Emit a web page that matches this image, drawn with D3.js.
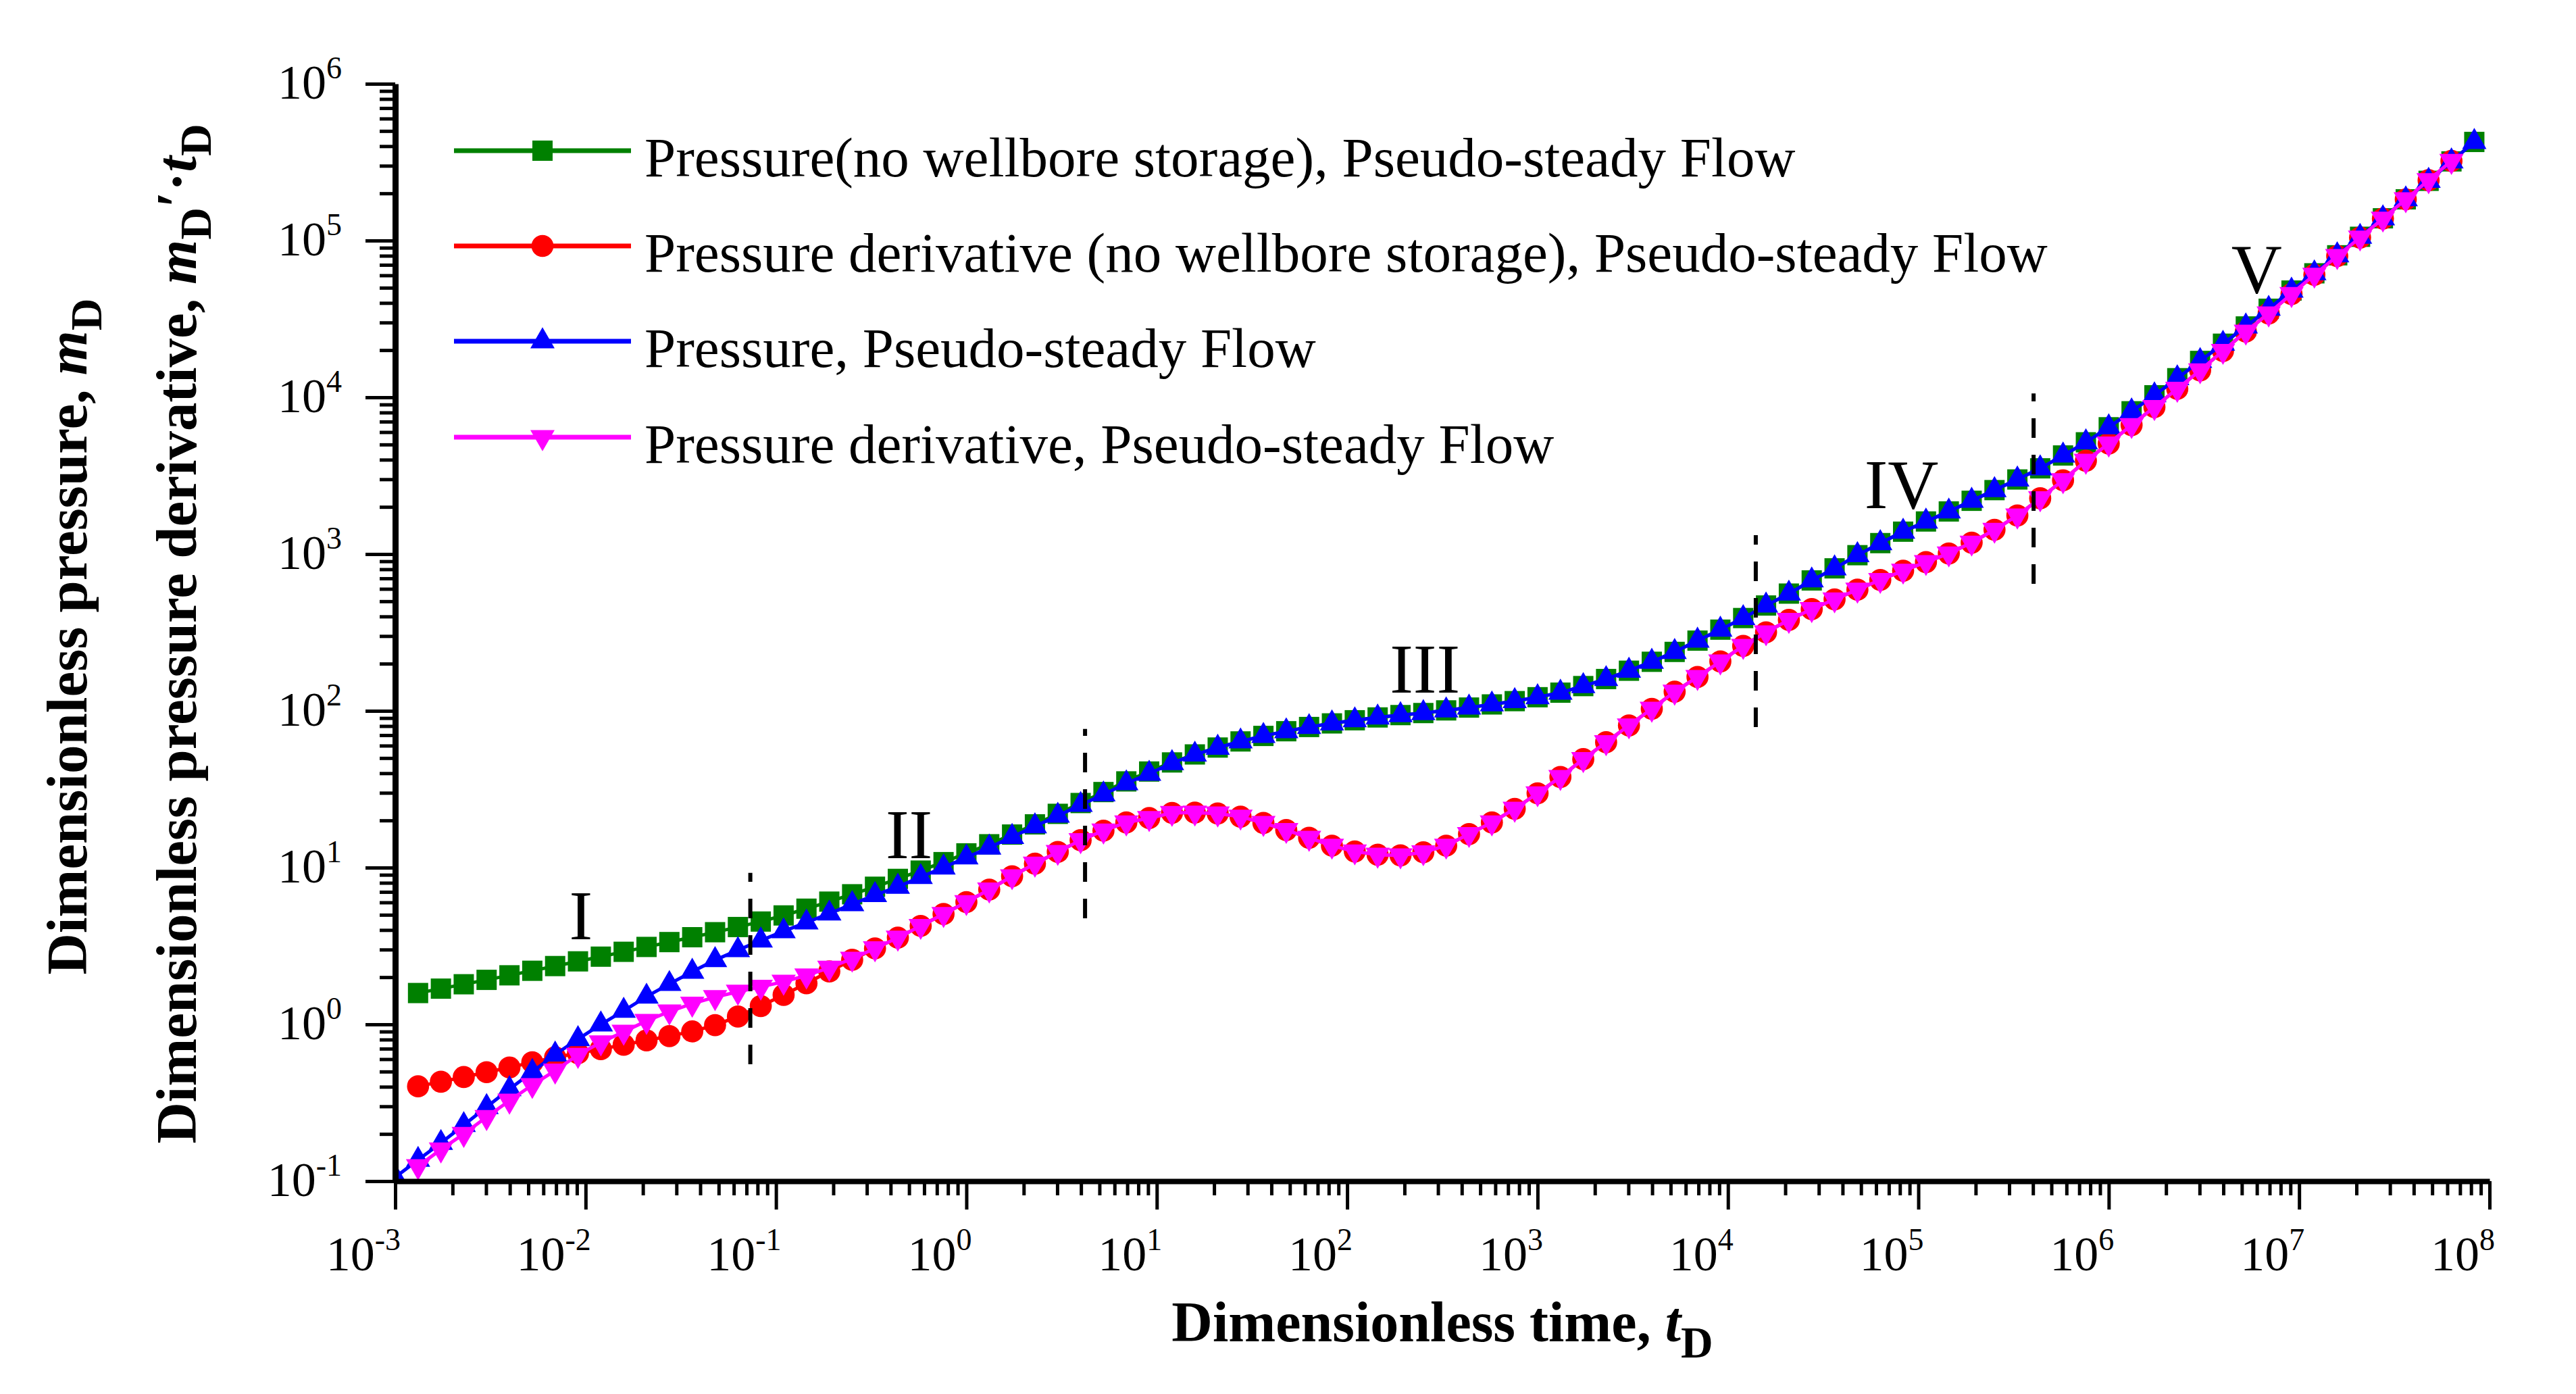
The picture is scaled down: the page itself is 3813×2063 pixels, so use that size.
<!DOCTYPE html>
<html>
<head>
<meta charset="utf-8">
<script src="https://cdn.jsdelivr.net/npm/d3@7"></script>
<style>
  html, body { margin: 0; padding: 0; background: #ffffff; }
  svg { display: block; }
</style>
</head>
<body>
<svg id="chart" width="3813" height="2063"></svg>
<script>
// ---------------- DATA ----------------
// log10 of dimensionless time tD for each sample
const logTimeD = [
  -3.00,-2.88,-2.76,-2.64,-2.52,-2.40,-2.28,-2.16,-2.04,-1.92,-1.80,-1.68,-1.56,-1.44,-1.32,-1.20,
  -1.08,-0.96,-0.84,-0.72,-0.60,-0.48,-0.36,-0.24,-0.12,0.00,0.12,0.24,0.36,0.48,0.60,0.72,
  0.84,0.96,1.08,1.20,1.32,1.44,1.56,1.68,1.80,1.92,2.04,2.16,2.28,2.40,2.52,2.64,
  2.76,2.88,3.00,3.12,3.24,3.36,3.48,3.60,3.72,3.84,3.96,4.08,4.20,4.32,4.44,4.56,
  4.68,4.80,4.92,5.04,5.16,5.28,5.40,5.52,5.64,5.76,5.88,6.00,6.12,6.24,6.36,6.48,
  6.60,6.72,6.84,6.96,7.08,7.20,7.32,7.44,7.56,7.68,7.80,7.92
];
// log10 of Pressure (no wellbore storage), pseudo-steady flow
const pressureNoWbsExp = [
  null,
  0.200,0.228,0.256,0.284,0.313,0.342,0.372,0.402,0.432,0.463,
  0.494,0.525,0.556,0.588,0.621,0.656,0.695,0.738,0.783,0.830,
  0.878,0.928,0.981,1.035,1.091,1.149,1.211,1.276,1.343,1.412,
  1.482,1.550,1.613,1.671,1.722,1.766,1.805,1.840,1.870,1.897,
  1.920,1.940,1.958,1.973,1.986,2.003,2.021,2.041,2.062,2.087,
  2.116,2.158,2.203,2.256,2.313,2.376,2.448,2.518,2.592,2.672,
  2.748,2.832,2.909,2.993,3.070,3.143,3.208,3.272,3.340,3.408,
  3.476,3.547,3.629,3.713,3.809,3.911,4.013,4.122,4.232,4.342,
  4.452,4.565,4.681,4.791,4.906,5.024,5.142,5.263,5.381,5.505,
  5.629
];
// log10 of Pressure derivative (no wellbore storage), pseudo-steady flow
const derivativeNoWbsExp = [
  null,
  -0.395,-0.366,-0.336,-0.305,-0.275,-0.242,-0.210,-0.184,-0.158,-0.130,
  -0.102,-0.075,-0.045,-0.005,0.050,0.117,0.188,0.262,0.338,0.412,
  0.485,0.553,0.628,0.704,0.780,0.860,0.945,1.025,1.100,1.175,
  1.236,1.288,1.316,1.349,1.351,1.345,1.325,1.285,1.240,1.190,
  1.140,1.103,1.082,1.078,1.098,1.140,1.214,1.288,1.375,1.474,
  1.578,1.692,1.800,1.907,2.013,2.122,2.216,2.315,2.414,2.501,
  2.580,2.649,2.711,2.773,2.835,2.894,2.949,3.004,3.073,3.155,
  3.246,3.356,3.471,3.595,3.705,3.823,3.938,4.054,4.172,4.296,
  4.419,4.535,4.659,4.782,4.901,5.019,5.140,5.263,5.385,5.508,
  null
];
// log10 of Pressure (with wellbore storage), pseudo-steady flow
const pressureExp = [
  -0.975,
  -0.864,-0.756,-0.642,-0.527,-0.413,-0.303,-0.192,-0.094,0.000,0.087,
  0.177,0.258,0.336,0.410,0.474,0.535,0.594,0.650,0.707,0.767,
  0.825,0.878,0.940,1.001,1.065,1.128,1.196,1.264,1.331,1.400,
  1.467,1.538,1.599,1.667,1.721,1.765,1.805,1.840,1.870,1.897,
  1.920,1.940,1.958,1.973,1.986,2.003,2.021,2.041,2.062,2.087,
  2.116,2.158,2.203,2.256,2.313,2.376,2.448,2.518,2.592,2.672,
  2.748,2.832,2.909,2.993,3.070,3.143,3.208,3.272,3.340,3.408,
  3.476,3.547,3.629,3.713,3.809,3.911,4.013,4.122,4.232,4.342,
  4.452,4.565,4.681,4.791,4.906,5.024,5.142,5.263,5.381,5.505,
  5.629
];
// log10 of Pressure derivative (with wellbore storage), pseudo-steady flow
const derivativeExp = [
  null,
  -0.905,-0.798,-0.699,-0.591,-0.487,-0.387,-0.295,-0.195,-0.115,-0.047,
  0.022,0.082,0.132,0.174,0.208,0.240,0.272,0.312,0.361,0.419,
  0.485,0.553,0.628,0.704,0.780,0.860,0.945,1.025,1.100,1.175,
  1.236,1.288,1.316,1.349,1.351,1.345,1.325,1.285,1.240,1.190,
  1.140,1.103,1.082,1.078,1.098,1.140,1.214,1.288,1.375,1.474,
  1.578,1.692,1.800,1.907,2.013,2.122,2.216,2.315,2.414,2.501,
  2.580,2.649,2.711,2.773,2.835,2.894,2.949,3.004,3.073,3.155,
  3.246,3.356,3.471,3.595,3.705,3.823,3.938,4.054,4.172,4.296,
  4.419,4.535,4.659,4.782,4.901,5.019,5.140,5.263,5.385,5.508,
  null
];

const legendLabels = [
  "Pressure(no wellbore storage), Pseudo-steady Flow",
  "Pressure derivative (no wellbore storage), Pseudo-steady Flow",
  "Pressure, Pseudo-steady Flow",
  "Pressure derivative, Pseudo-steady Flow"
];
const seriesColors = ["#008000", "#ff0000", "#0000ff", "#ff00ff"];
const seriesSymbols = ["square", "circle", "triangle", "triangleDown"];

// flow-regime boundaries (dashed lines) and regime labels
const boundaryTimes = [0.0733, 4.2, 1.4e4, 4.03e5];
const boundaryLow   = [0.557, 4.75, 78.9, 646];
const boundaryHigh  = [9.25, 76.6, 1320, 10600];
const regimeLabels  = ["I", "II", "III", "IV", "V"];
const regimeLabelT  = [0.00944, 0.50, 256, 8.15e4, 5.98e6];
const regimeLabelV  = [3.49, 11.5, 130.6, 1963, 46600];

const xTickExponents = [-3,-2,-1,0,1,2,3,4,5,6,7,8];
const yTickExponents = [-1,0,1,2,3,4,5,6];

// ---------------- LAYOUT ----------------
const FONT = "'Liberation Serif', 'Times New Roman', serif";
const plot = { left: 585, right: 3685, top: 124, bottom: 1748 };
const svg = d3.select("#chart");
svg.append("rect").attr("width", 3813).attr("height", 2063).attr("fill", "#ffffff");

const x = d3.scaleLog().domain([1e-3, 1e8]).range([plot.left, plot.right]);
const y = d3.scaleLog().domain([1e-1, 1e6]).range([plot.bottom, plot.top]);

svg.append("defs").append("clipPath").attr("id", "plotClip")
  .append("rect")
  .attr("x", plot.left).attr("y", plot.top)
  .attr("width", plot.right - plot.left).attr("height", plot.bottom - plot.top);

// ---------------- SERIES ----------------
const seriesExps = [pressureNoWbsExp, derivativeNoWbsExp, pressureExp, derivativeExp];
const series = seriesExps.map((exps, k) => ({
  label: legendLabels[k],
  color: seriesColors[k],
  symbol: seriesSymbols[k],
  points: exps.map((e, i) => e === null ? null : { t: Math.pow(10, logTimeD[i]), v: Math.pow(10, e) })
              .filter(p => p !== null)
}));

function symbolPath(kind) {
  if (kind === "square") return d3.symbol().type(d3.symbolSquare).size(900)();
  if (kind === "circle") return d3.symbol().type(d3.symbolCircle).size(840)();
  return d3.symbol().type(d3.symbolTriangle).size(560)();
}
function symbolTransform(kind, px, py) {
  if (kind === "triangleDown") return `translate(${px},${py}) rotate(180)`;
  return `translate(${px},${py})`;
}

const plotG = svg.append("g").attr("clip-path", "url(#plotClip)");
const line = d3.line().x(d => x(d.t)).y(d => y(d.v));

series.forEach(s => {
  const g = plotG.append("g");
  g.append("path").attr("d", line(s.points))
    .attr("fill", "none").attr("stroke", s.color).attr("stroke-width", 5);
  g.selectAll("path.mk").data(s.points).join("path")
    .attr("class", "mk")
    .attr("d", symbolPath(s.symbol))
    .attr("transform", d => symbolTransform(s.symbol, x(d.t), y(d.v)))
    .attr("fill", s.color);
});

// ---------------- DASHED BOUNDARIES ----------------
svg.append("g").selectAll("line").data(boundaryTimes).join("line")
  .attr("x1", d => x(d)).attr("x2", d => x(d))
  .attr("y1", (d, i) => y(boundaryLow[i])).attr("y2", (d, i) => y(boundaryHigh[i]))
  .attr("stroke", "#000").attr("stroke-width", 6).attr("stroke-dasharray", "29,25");

// ---------------- REGIME LABELS ----------------
svg.append("g").selectAll("text").data(regimeLabels).join("text")
  .attr("x", (d, i) => x(regimeLabelT[i]))
  .attr("y", (d, i) => y(regimeLabelV[i]))
  .attr("text-anchor", "middle")
  .attr("font-family", FONT).attr("font-size", 104).attr("fill", "#000")
  .text(d => d);

// ---------------- AXES ----------------
const xTicks = [], yTicks = [];
xTickExponents.forEach(k => { for (let m = 1; m <= 9; m++) { const v = m * Math.pow(10, k); if (v <= 1e8 * 1.0001) xTicks.push(v); } });
yTickExponents.forEach(k => { for (let m = 1; m <= 9; m++) { const v = m * Math.pow(10, k); if (v <= 1e6 * 1.0001) yTicks.push(v); } });
const isMajor = v => Math.abs(Math.log10(v) - Math.round(Math.log10(v))) < 1e-6;

const xAxisG = svg.append("g").attr("transform", `translate(0,${plot.bottom})`)
  .call(d3.axisBottom(x).tickValues(xTicks).tickSize(20).tickSizeOuter(0).tickFormat(""));
xAxisG.select(".domain").attr("stroke", "#000").attr("stroke-width", 8);
xAxisG.selectAll(".tick line").attr("stroke", "#000").attr("stroke-width", 5)
  .attr("y2", d => isMajor(d) ? 42 : 21);

const yAxisG = svg.append("g").attr("transform", `translate(${plot.left},0)`)
  .call(d3.axisLeft(y).tickValues(yTicks).tickSize(23).tickSizeOuter(0).tickFormat(""));
yAxisG.select(".domain").attr("stroke", "#000").attr("stroke-width", 9);
yAxisG.selectAll(".tick line").attr("stroke", "#000").attr("stroke-width", 5)
  .attr("x2", d => isMajor(d) ? -44 : -23);

// tick labels 10^k
function powLabel(sel, exp) {
  sel.append("tspan").text("10");
  sel.append("tspan").attr("font-size", 46).attr("dy", -30).text(String(exp));
}
const xLab = svg.append("g").attr("font-family", FONT).attr("font-size", 72).attr("fill", "#000");
xTickExponents.forEach(k => {
  const t = xLab.append("text").attr("x", x(Math.pow(10, k)) + 8).attr("y", 1880).attr("text-anchor", "end");
  powLabel(t, k);
});
const yLab = svg.append("g").attr("font-family", FONT).attr("font-size", 72).attr("fill", "#000");
yTickExponents.forEach(k => {
  const t = yLab.append("text").attr("x", 506).attr("y", y(Math.pow(10, k)) + 22).attr("text-anchor", "end");
  powLabel(t, k);
});

// ---------------- AXIS TITLES ----------------
const xt = svg.append("text").attr("x", 2135).attr("y", 1985).attr("text-anchor", "middle")
  .attr("font-family", FONT).attr("font-size", 84).attr("font-weight", "bold").attr("fill", "#000");
xt.append("tspan").text("Dimensionless time, ");
xt.append("tspan").attr("font-style", "italic").text("t");
xt.append("tspan").attr("font-size", 66).attr("dy", 24).text("D");

const yt1 = svg.append("text").attr("transform", "translate(128,942) rotate(-90)").attr("text-anchor", "middle")
  .attr("font-family", FONT).attr("font-size", 85).attr("font-weight", "bold").attr("fill", "#000");
yt1.append("tspan").text("Dimensionless pressure, ");
yt1.append("tspan").attr("font-style", "italic").text("m");
yt1.append("tspan").attr("font-size", 66).attr("dy", 22).text("D");

const yt2 = svg.append("text").attr("transform", "translate(290,938) rotate(-90)").attr("text-anchor", "middle")
  .attr("font-family", FONT).attr("font-size", 85).attr("font-weight", "bold").attr("fill", "#000");
yt2.append("tspan").text("Dimensionless pressure derivative, ");
yt2.append("tspan").attr("font-style", "italic").text("m");
yt2.append("tspan").attr("font-size", 66).attr("dy", 22).text("D");
yt2.append("tspan").attr("dy", -22).text("\u2032\u00B7");
yt2.append("tspan").attr("font-style", "italic").text("t");
yt2.append("tspan").attr("font-size", 66).attr("dy", 22).text("D");

// ---------------- LEGEND ----------------
const legendY = [223, 364, 505, 647];
const legend = svg.append("g");
series.forEach((s, k) => {
  const g = legend.append("g");
  g.append("line").attr("x1", 672).attr("x2", 934).attr("y1", legendY[k]).attr("y2", legendY[k])
    .attr("stroke", s.color).attr("stroke-width", 7);
  g.append("path").attr("d", symbolPath(s.symbol))
    .attr("transform", symbolTransform(s.symbol, 803, legendY[k])).attr("fill", s.color);
  g.append("text").attr("x", 954).attr("y", legendY[k] + 38)
    .attr("font-family", FONT).attr("font-size", 83).attr("fill", "#000").text(s.label);
});
</script>
</body>
</html>
